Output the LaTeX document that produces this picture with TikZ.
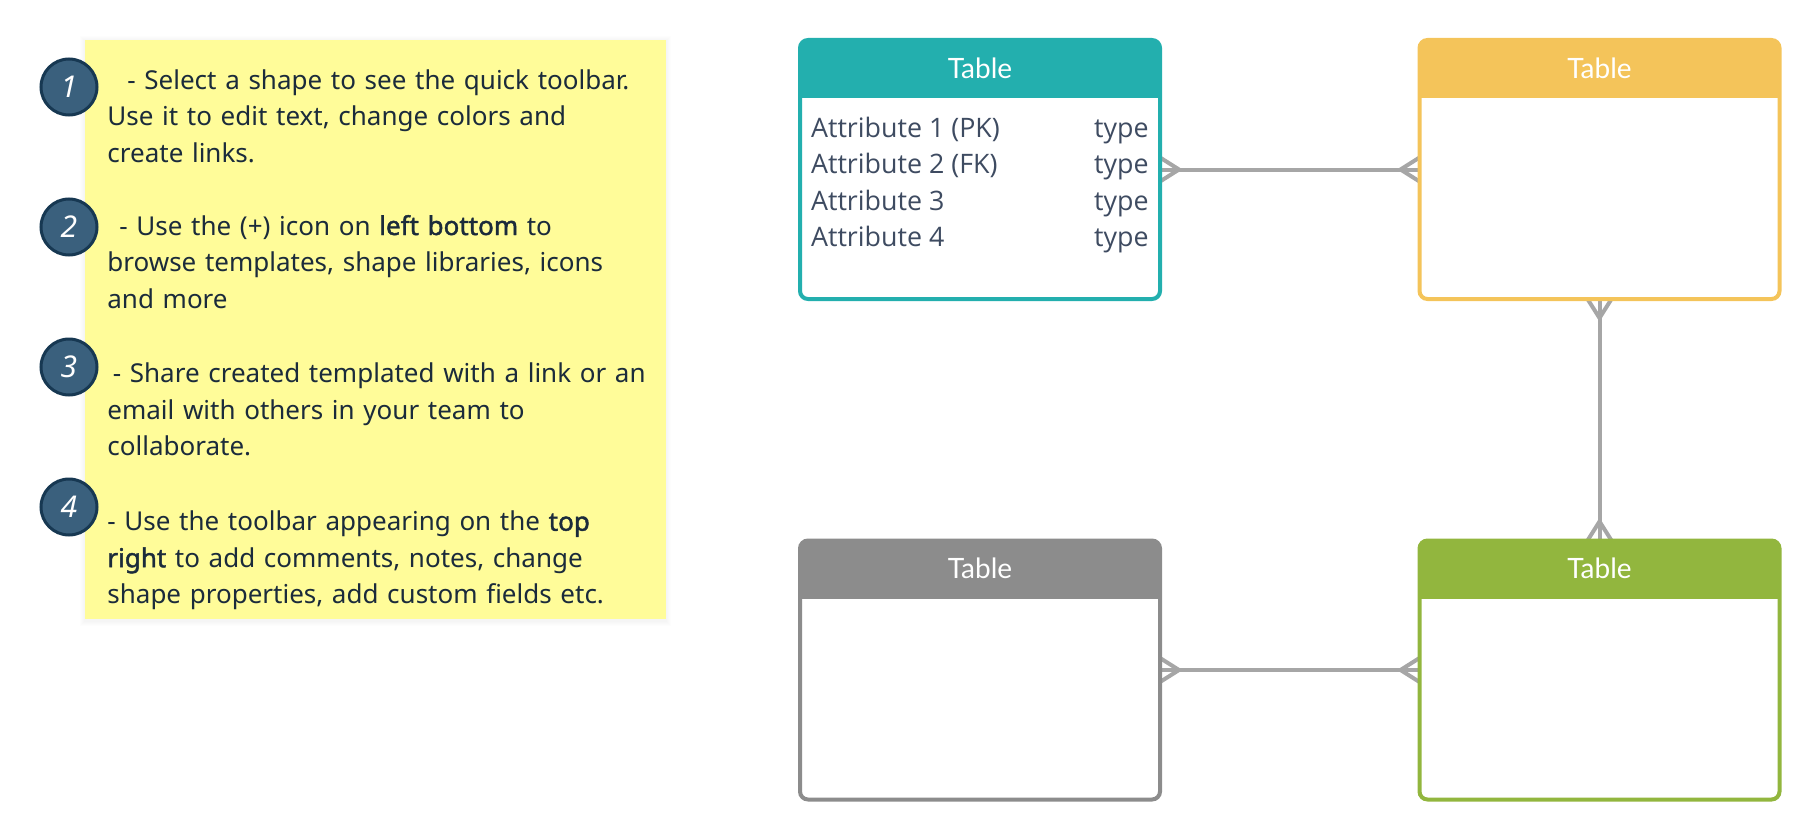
\documentclass[tikz,border=0pt]{standalone}
\usepackage{fontspec}
\setmainfont{Noto Sans}[AutoFakeBold=1.6]
\newfontfamily\attrfont{Open Sans}
\newfontfamily\headfont{Lato}
\usetikzlibrary{calc,backgrounds}

\definecolor{notebg}{HTML}{FFFC99}
\definecolor{notetxt}{HTML}{1B2B3B}
\definecolor{stepfill}{HTML}{3A607D}
\definecolor{stepline}{HTML}{173852}
\definecolor{attrtxt}{HTML}{3E4B61}
\definecolor{tblteal}{HTML}{23AFAE}
\definecolor{tblyellow}{HTML}{F4C45A}
\definecolor{tblgray}{HTML}{8C8C8C}
\definecolor{tblgreen}{HTML}{92B63E}
\definecolor{relgray}{HTML}{A6A6A6}

\tikzset{
  notebox/.style={fill=notebg, minimum width=290.5pt, minimum height=289.5pt, inner sep=0pt},
  stepnum/.style={circle, fill=stepfill, draw=stepline, line width=1.5pt,
    minimum size=28pt, inner sep=0pt, text=white,
    font=\itshape\fontsize{15}{15}\selectfont},
  notetext/.style={anchor=base west, text width=320pt, align=left, inner sep=0pt,
    text=notetxt, font=\fontsize{13}{18.25}\selectfont},
  tbl/.style={draw=#1, fill=white, line width=2pt, rounded corners=4pt,
    minimum width=180pt, minimum height=129.5pt, inner sep=0pt, outer sep=0pt},
  tblhead/.style={anchor=base, text=white, inner sep=0pt,
    font=\headfont\fontsize{14}{14}\selectfont},
  attr/.style={text=attrtxt, inner sep=0pt, font=\attrfont\fontsize{13.4}{13.4}\selectfont},
  rel/.style={draw=relgray, line width=2pt},
  crowfoot/.pic={\draw[rel] (0,-12) -- (19,0) -- (0,12);}
}

\begin{document}
\begin{tikzpicture}[x=0.5pt, y=-0.5pt]
  \useasboundingbox (0,0) rectangle (1820,840);

  % sticky note with the four hints
  \node[notebox] (note) at (375.5,329.5) {};
  \begin{pgfonlayer}{background}
    \foreach \s in {1,...,5}
      \fill[black, opacity=0.006] ([shift={(-\s,-\s+1)}]note.north west)
        rectangle ([shift={(\s,\s+2)}]note.south east);
  \end{pgfonlayer}

  \node[stepnum] (n1) at (69,87) {1};
  \node[stepnum] (n2) at (69,227) {2};
  \node[stepnum] (n3) at (69,367) {3};
  \node[stepnum] (n4) at (69,507) {4};

  \node[notetext] (t1) at (107,89.3) {\hspace*{10pt}- Select a shape to see the quick toolbar.\\
    Use it to edit text, change colors and\\create links.};
  \node[notetext] (t2) at (107,235) {\hspace*{6pt}- Use the (+) icon on \textbf{left bottom} to\\
    browse templates, shape libraries, icons\\and more};
  \node[notetext] (t3) at (107,382.7) {\hspace*{2.7pt}- Share created templated with a link or an\\
    email with others in your team to\\collaborate.};
  \node[notetext] (t4) at (107,530.7) {- Use the toolbar appearing on the \textbf{top}\\
    \textbf{right} to add comments, notes, change\\shape properties, add custom fields etc.};

  % the four tables
  \foreach \id/\col/\cx/\cy in {A/tblteal/980/169.5, B/tblyellow/1599.5/169.5,
                                C/tblgray/980/670, D/tblgreen/1599.5/670} {
    \node[tbl=\col] (\id) at (\cx,\cy) {};
    \fill[\col, rounded corners=4pt] (\id.north west) rectangle ($(\id.north east)+(0,58)$);
    \fill[\col] ($(\id.north west)+(0,48)$) rectangle ($(\id.north east)+(0,58)$);
    \node[tblhead] (\id-head) at ($(\id.north)+(0,38.3)$) {Table};
  }

  \foreach \n/\lbl in {1/Attribute 1 (PK), 2/Attribute 2 (FK), 3/Attribute 3, 4/Attribute 4} {
    \node[attr, anchor=base west] (A-a\n) at ($(A.north west)+(10.7,60.8+36.5*\n)$) {\lbl};
    \node[attr, anchor=base east] (A-t\n) at ($(A.north east)+(-11,60.8+36.5*\n)$) {type};
  }

  % relations, many to many
  \begin{pgfonlayer}{background}
    \draw[rel] (A.east) -- (B.west);
    \draw[rel] (B.south) -- (D.north);
    \draw[rel] (C.east) -- (D.west);
    \pic at (A.east) {crowfoot};
    \pic[rotate=180] at (B.west) {crowfoot};
    \pic[rotate=-90] at (B.south) {crowfoot};
    \pic[rotate=90] at (D.north) {crowfoot};
    \pic at (C.east) {crowfoot};
    \pic[rotate=180] at (D.west) {crowfoot};
  \end{pgfonlayer}
\end{tikzpicture}
\end{document}
